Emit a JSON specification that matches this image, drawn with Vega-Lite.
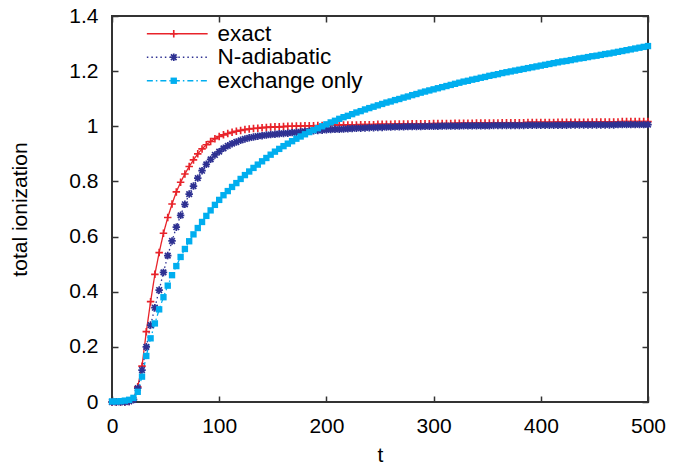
{
"$schema": "https://vega.github.io/schema/vega-lite/v6.json",
"width": 536, "height": 386,
"autosize": {"type": "none"},
"padding": {"left": 112, "top": 16, "right": 33, "bottom": 65},
"background": "white",
"config": {"view": {"stroke": "#333333", "strokeWidth": 2}, "font": "Liberation Sans"},
"data": {"values": [
{"t":0,"value":0,"series":"exact"},{"t":4,"value":0,"series":"exact"},{"t":8,"value":0,"series":"exact"},{"t":12,"value":0,"series":"exact"},{"t":16,"value":0.002,"series":"exact"},{"t":20,"value":0.01,"series":"exact"},{"t":24,"value":0.055,"series":"exact"},{"t":28,"value":0.13,"series":"exact"},{"t":32,"value":0.255,"series":"exact"},{"t":36,"value":0.364,"series":"exact"},{"t":40,"value":0.463,"series":"exact"},{"t":44,"value":0.542,"series":"exact"},{"t":48,"value":0.612,"series":"exact"},{"t":52,"value":0.669,"series":"exact"},{"t":56,"value":0.718,"series":"exact"},{"t":60,"value":0.762,"series":"exact"},{"t":64,"value":0.797,"series":"exact"},{"t":68,"value":0.827,"series":"exact"},{"t":72,"value":0.854,"series":"exact"},{"t":76,"value":0.878,"series":"exact"},{"t":80,"value":0.9,"series":"exact"},{"t":84,"value":0.918,"series":"exact"},{"t":88,"value":0.933,"series":"exact"},{"t":92,"value":0.945,"series":"exact"},{"t":96,"value":0.955,"series":"exact"},{"t":100,"value":0.963,"series":"exact"},{"t":104,"value":0.969,"series":"exact"},{"t":108,"value":0.974,"series":"exact"},{"t":112,"value":0.978,"series":"exact"},{"t":116,"value":0.982,"series":"exact"},{"t":120,"value":0.985,"series":"exact"},{"t":124,"value":0.988,"series":"exact"},{"t":128,"value":0.99,"series":"exact"},{"t":132,"value":0.992,"series":"exact"},{"t":136,"value":0.993,"series":"exact"},{"t":140,"value":0.995,"series":"exact"},{"t":144,"value":0.996,"series":"exact"},{"t":148,"value":0.997,"series":"exact"},{"t":152,"value":0.998,"series":"exact"},{"t":156,"value":0.998,"series":"exact"},{"t":160,"value":0.999,"series":"exact"},{"t":164,"value":1,"series":"exact"},{"t":168,"value":1,"series":"exact"},{"t":172,"value":1.001,"series":"exact"},{"t":176,"value":1.001,"series":"exact"},{"t":180,"value":1.002,"series":"exact"},{"t":184,"value":1.002,"series":"exact"},{"t":188,"value":1.002,"series":"exact"},{"t":192,"value":1.003,"series":"exact"},{"t":196,"value":1.003,"series":"exact"},{"t":200,"value":1.003,"series":"exact"},{"t":204,"value":1.004,"series":"exact"},{"t":208,"value":1.004,"series":"exact"},{"t":212,"value":1.004,"series":"exact"},{"t":216,"value":1.005,"series":"exact"},{"t":220,"value":1.005,"series":"exact"},{"t":224,"value":1.005,"series":"exact"},{"t":228,"value":1.005,"series":"exact"},{"t":232,"value":1.006,"series":"exact"},{"t":236,"value":1.006,"series":"exact"},{"t":240,"value":1.006,"series":"exact"},{"t":244,"value":1.006,"series":"exact"},{"t":248,"value":1.007,"series":"exact"},{"t":252,"value":1.007,"series":"exact"},{"t":256,"value":1.007,"series":"exact"},{"t":260,"value":1.007,"series":"exact"},{"t":264,"value":1.008,"series":"exact"},{"t":268,"value":1.008,"series":"exact"},{"t":272,"value":1.008,"series":"exact"},{"t":276,"value":1.008,"series":"exact"},{"t":280,"value":1.009,"series":"exact"},{"t":284,"value":1.009,"series":"exact"},{"t":288,"value":1.009,"series":"exact"},{"t":292,"value":1.009,"series":"exact"},{"t":296,"value":1.009,"series":"exact"},{"t":300,"value":1.01,"series":"exact"},{"t":304,"value":1.01,"series":"exact"},{"t":308,"value":1.01,"series":"exact"},{"t":312,"value":1.01,"series":"exact"},{"t":316,"value":1.01,"series":"exact"},{"t":320,"value":1.011,"series":"exact"},{"t":324,"value":1.011,"series":"exact"},{"t":328,"value":1.011,"series":"exact"},{"t":332,"value":1.011,"series":"exact"},{"t":336,"value":1.011,"series":"exact"},{"t":340,"value":1.012,"series":"exact"},{"t":344,"value":1.012,"series":"exact"},{"t":348,"value":1.012,"series":"exact"},{"t":352,"value":1.012,"series":"exact"},{"t":356,"value":1.012,"series":"exact"},{"t":360,"value":1.012,"series":"exact"},{"t":364,"value":1.013,"series":"exact"},{"t":368,"value":1.013,"series":"exact"},{"t":372,"value":1.013,"series":"exact"},{"t":376,"value":1.013,"series":"exact"},{"t":380,"value":1.013,"series":"exact"},{"t":384,"value":1.013,"series":"exact"},{"t":388,"value":1.014,"series":"exact"},{"t":392,"value":1.014,"series":"exact"},{"t":396,"value":1.014,"series":"exact"},{"t":400,"value":1.014,"series":"exact"},{"t":404,"value":1.014,"series":"exact"},{"t":408,"value":1.014,"series":"exact"},{"t":412,"value":1.014,"series":"exact"},{"t":416,"value":1.015,"series":"exact"},{"t":420,"value":1.015,"series":"exact"},{"t":424,"value":1.015,"series":"exact"},{"t":428,"value":1.015,"series":"exact"},{"t":432,"value":1.015,"series":"exact"},{"t":436,"value":1.015,"series":"exact"},{"t":440,"value":1.015,"series":"exact"},{"t":444,"value":1.015,"series":"exact"},{"t":448,"value":1.016,"series":"exact"},{"t":452,"value":1.016,"series":"exact"},{"t":456,"value":1.016,"series":"exact"},{"t":460,"value":1.016,"series":"exact"},{"t":464,"value":1.016,"series":"exact"},{"t":468,"value":1.016,"series":"exact"},{"t":472,"value":1.016,"series":"exact"},{"t":476,"value":1.017,"series":"exact"},{"t":480,"value":1.017,"series":"exact"},{"t":484,"value":1.017,"series":"exact"},{"t":488,"value":1.017,"series":"exact"},{"t":492,"value":1.017,"series":"exact"},{"t":496,"value":1.017,"series":"exact"},{"t":500,"value":1.017,"series":"exact"},
{"t":0,"value":0,"series":"N-adiabatic"},{"t":4,"value":0,"series":"N-adiabatic"},{"t":8,"value":0,"series":"N-adiabatic"},{"t":12,"value":0,"series":"N-adiabatic"},{"t":16,"value":0.002,"series":"N-adiabatic"},{"t":20,"value":0.008,"series":"N-adiabatic"},{"t":24,"value":0.05,"series":"N-adiabatic"},{"t":28,"value":0.116,"series":"N-adiabatic"},{"t":32,"value":0.2,"series":"N-adiabatic"},{"t":36,"value":0.279,"series":"N-adiabatic"},{"t":40,"value":0.342,"series":"N-adiabatic"},{"t":44,"value":0.406,"series":"N-adiabatic"},{"t":48,"value":0.47,"series":"N-adiabatic"},{"t":52,"value":0.531,"series":"N-adiabatic"},{"t":56,"value":0.584,"series":"N-adiabatic"},{"t":60,"value":0.634,"series":"N-adiabatic"},{"t":64,"value":0.677,"series":"N-adiabatic"},{"t":68,"value":0.717,"series":"N-adiabatic"},{"t":72,"value":0.754,"series":"N-adiabatic"},{"t":76,"value":0.783,"series":"N-adiabatic"},{"t":80,"value":0.812,"series":"N-adiabatic"},{"t":84,"value":0.839,"series":"N-adiabatic"},{"t":88,"value":0.862,"series":"N-adiabatic"},{"t":92,"value":0.88,"series":"N-adiabatic"},{"t":96,"value":0.896,"series":"N-adiabatic"},{"t":100,"value":0.908,"series":"N-adiabatic"},{"t":104,"value":0.92,"series":"N-adiabatic"},{"t":108,"value":0.929,"series":"N-adiabatic"},{"t":112,"value":0.937,"series":"N-adiabatic"},{"t":116,"value":0.943,"series":"N-adiabatic"},{"t":120,"value":0.949,"series":"N-adiabatic"},{"t":124,"value":0.954,"series":"N-adiabatic"},{"t":128,"value":0.958,"series":"N-adiabatic"},{"t":132,"value":0.961,"series":"N-adiabatic"},{"t":136,"value":0.964,"series":"N-adiabatic"},{"t":140,"value":0.966,"series":"N-adiabatic"},{"t":144,"value":0.968,"series":"N-adiabatic"},{"t":148,"value":0.97,"series":"N-adiabatic"},{"t":152,"value":0.971,"series":"N-adiabatic"},{"t":156,"value":0.973,"series":"N-adiabatic"},{"t":160,"value":0.974,"series":"N-adiabatic"},{"t":164,"value":0.975,"series":"N-adiabatic"},{"t":168,"value":0.977,"series":"N-adiabatic"},{"t":172,"value":0.978,"series":"N-adiabatic"},{"t":176,"value":0.98,"series":"N-adiabatic"},{"t":180,"value":0.981,"series":"N-adiabatic"},{"t":184,"value":0.982,"series":"N-adiabatic"},{"t":188,"value":0.984,"series":"N-adiabatic"},{"t":192,"value":0.985,"series":"N-adiabatic"},{"t":196,"value":0.986,"series":"N-adiabatic"},{"t":200,"value":0.987,"series":"N-adiabatic"},{"t":204,"value":0.988,"series":"N-adiabatic"},{"t":208,"value":0.989,"series":"N-adiabatic"},{"t":212,"value":0.989,"series":"N-adiabatic"},{"t":216,"value":0.99,"series":"N-adiabatic"},{"t":220,"value":0.991,"series":"N-adiabatic"},{"t":224,"value":0.992,"series":"N-adiabatic"},{"t":228,"value":0.993,"series":"N-adiabatic"},{"t":232,"value":0.993,"series":"N-adiabatic"},{"t":236,"value":0.994,"series":"N-adiabatic"},{"t":240,"value":0.995,"series":"N-adiabatic"},{"t":244,"value":0.995,"series":"N-adiabatic"},{"t":248,"value":0.996,"series":"N-adiabatic"},{"t":252,"value":0.996,"series":"N-adiabatic"},{"t":256,"value":0.997,"series":"N-adiabatic"},{"t":260,"value":0.997,"series":"N-adiabatic"},{"t":264,"value":0.998,"series":"N-adiabatic"},{"t":268,"value":0.998,"series":"N-adiabatic"},{"t":272,"value":0.998,"series":"N-adiabatic"},{"t":276,"value":0.999,"series":"N-adiabatic"},{"t":280,"value":0.999,"series":"N-adiabatic"},{"t":284,"value":0.999,"series":"N-adiabatic"},{"t":288,"value":0.999,"series":"N-adiabatic"},{"t":292,"value":1,"series":"N-adiabatic"},{"t":296,"value":1,"series":"N-adiabatic"},{"t":300,"value":1,"series":"N-adiabatic"},{"t":304,"value":1,"series":"N-adiabatic"},{"t":308,"value":1.001,"series":"N-adiabatic"},{"t":312,"value":1.001,"series":"N-adiabatic"},{"t":316,"value":1.001,"series":"N-adiabatic"},{"t":320,"value":1.001,"series":"N-adiabatic"},{"t":324,"value":1.001,"series":"N-adiabatic"},{"t":328,"value":1.002,"series":"N-adiabatic"},{"t":332,"value":1.002,"series":"N-adiabatic"},{"t":336,"value":1.002,"series":"N-adiabatic"},{"t":340,"value":1.002,"series":"N-adiabatic"},{"t":344,"value":1.002,"series":"N-adiabatic"},{"t":348,"value":1.002,"series":"N-adiabatic"},{"t":352,"value":1.002,"series":"N-adiabatic"},{"t":356,"value":1.003,"series":"N-adiabatic"},{"t":360,"value":1.003,"series":"N-adiabatic"},{"t":364,"value":1.003,"series":"N-adiabatic"},{"t":368,"value":1.003,"series":"N-adiabatic"},{"t":372,"value":1.003,"series":"N-adiabatic"},{"t":376,"value":1.003,"series":"N-adiabatic"},{"t":380,"value":1.003,"series":"N-adiabatic"},{"t":384,"value":1.003,"series":"N-adiabatic"},{"t":388,"value":1.004,"series":"N-adiabatic"},{"t":392,"value":1.004,"series":"N-adiabatic"},{"t":396,"value":1.004,"series":"N-adiabatic"},{"t":400,"value":1.004,"series":"N-adiabatic"},{"t":404,"value":1.004,"series":"N-adiabatic"},{"t":408,"value":1.004,"series":"N-adiabatic"},{"t":412,"value":1.004,"series":"N-adiabatic"},{"t":416,"value":1.004,"series":"N-adiabatic"},{"t":420,"value":1.004,"series":"N-adiabatic"},{"t":424,"value":1.004,"series":"N-adiabatic"},{"t":428,"value":1.005,"series":"N-adiabatic"},{"t":432,"value":1.005,"series":"N-adiabatic"},{"t":436,"value":1.005,"series":"N-adiabatic"},{"t":440,"value":1.005,"series":"N-adiabatic"},{"t":444,"value":1.005,"series":"N-adiabatic"},{"t":448,"value":1.005,"series":"N-adiabatic"},{"t":452,"value":1.005,"series":"N-adiabatic"},{"t":456,"value":1.005,"series":"N-adiabatic"},{"t":460,"value":1.005,"series":"N-adiabatic"},{"t":464,"value":1.005,"series":"N-adiabatic"},{"t":468,"value":1.005,"series":"N-adiabatic"},{"t":472,"value":1.006,"series":"N-adiabatic"},{"t":476,"value":1.006,"series":"N-adiabatic"},{"t":480,"value":1.006,"series":"N-adiabatic"},{"t":484,"value":1.006,"series":"N-adiabatic"},{"t":488,"value":1.006,"series":"N-adiabatic"},{"t":492,"value":1.006,"series":"N-adiabatic"},{"t":496,"value":1.006,"series":"N-adiabatic"},{"t":500,"value":1.006,"series":"N-adiabatic"},
{"t":0,"value":0.002,"series":"exchange only"},{"t":4,"value":0.002,"series":"exchange only"},{"t":8,"value":0.003,"series":"exchange only"},{"t":12,"value":0.005,"series":"exchange only"},{"t":16,"value":0.008,"series":"exchange only"},{"t":20,"value":0.015,"series":"exchange only"},{"t":24,"value":0.037,"series":"exchange only"},{"t":28,"value":0.092,"series":"exchange only"},{"t":32,"value":0.167,"series":"exchange only"},{"t":36,"value":0.231,"series":"exchange only"},{"t":40,"value":0.285,"series":"exchange only"},{"t":44,"value":0.336,"series":"exchange only"},{"t":48,"value":0.38,"series":"exchange only"},{"t":52,"value":0.422,"series":"exchange only"},{"t":56,"value":0.46,"series":"exchange only"},{"t":60,"value":0.493,"series":"exchange only"},{"t":64,"value":0.526,"series":"exchange only"},{"t":68,"value":0.555,"series":"exchange only"},{"t":72,"value":0.583,"series":"exchange only"},{"t":76,"value":0.608,"series":"exchange only"},{"t":80,"value":0.631,"series":"exchange only"},{"t":84,"value":0.653,"series":"exchange only"},{"t":88,"value":0.675,"series":"exchange only"},{"t":92,"value":0.695,"series":"exchange only"},{"t":96,"value":0.715,"series":"exchange only"},{"t":100,"value":0.733,"series":"exchange only"},{"t":104,"value":0.75,"series":"exchange only"},{"t":108,"value":0.765,"series":"exchange only"},{"t":112,"value":0.78,"series":"exchange only"},{"t":116,"value":0.794,"series":"exchange only"},{"t":120,"value":0.809,"series":"exchange only"},{"t":124,"value":0.823,"series":"exchange only"},{"t":128,"value":0.836,"series":"exchange only"},{"t":132,"value":0.849,"series":"exchange only"},{"t":136,"value":0.861,"series":"exchange only"},{"t":140,"value":0.873,"series":"exchange only"},{"t":144,"value":0.885,"series":"exchange only"},{"t":148,"value":0.897,"series":"exchange only"},{"t":152,"value":0.908,"series":"exchange only"},{"t":156,"value":0.918,"series":"exchange only"},{"t":160,"value":0.928,"series":"exchange only"},{"t":164,"value":0.937,"series":"exchange only"},{"t":168,"value":0.946,"series":"exchange only"},{"t":172,"value":0.955,"series":"exchange only"},{"t":176,"value":0.963,"series":"exchange only"},{"t":180,"value":0.971,"series":"exchange only"},{"t":184,"value":0.979,"series":"exchange only"},{"t":188,"value":0.986,"series":"exchange only"},{"t":192,"value":0.993,"series":"exchange only"},{"t":196,"value":1,"series":"exchange only"},{"t":200,"value":1.007,"series":"exchange only"},{"t":204,"value":1.014,"series":"exchange only"},{"t":208,"value":1.02,"series":"exchange only"},{"t":212,"value":1.027,"series":"exchange only"},{"t":216,"value":1.033,"series":"exchange only"},{"t":220,"value":1.038,"series":"exchange only"},{"t":224,"value":1.044,"series":"exchange only"},{"t":228,"value":1.05,"series":"exchange only"},{"t":232,"value":1.055,"series":"exchange only"},{"t":236,"value":1.061,"series":"exchange only"},{"t":240,"value":1.066,"series":"exchange only"},{"t":244,"value":1.071,"series":"exchange only"},{"t":248,"value":1.076,"series":"exchange only"},{"t":252,"value":1.081,"series":"exchange only"},{"t":256,"value":1.086,"series":"exchange only"},{"t":260,"value":1.09,"series":"exchange only"},{"t":264,"value":1.095,"series":"exchange only"},{"t":268,"value":1.099,"series":"exchange only"},{"t":272,"value":1.104,"series":"exchange only"},{"t":276,"value":1.108,"series":"exchange only"},{"t":280,"value":1.113,"series":"exchange only"},{"t":284,"value":1.117,"series":"exchange only"},{"t":288,"value":1.122,"series":"exchange only"},{"t":292,"value":1.126,"series":"exchange only"},{"t":296,"value":1.13,"series":"exchange only"},{"t":300,"value":1.134,"series":"exchange only"},{"t":304,"value":1.138,"series":"exchange only"},{"t":308,"value":1.142,"series":"exchange only"},{"t":312,"value":1.146,"series":"exchange only"},{"t":316,"value":1.15,"series":"exchange only"},{"t":320,"value":1.154,"series":"exchange only"},{"t":324,"value":1.158,"series":"exchange only"},{"t":328,"value":1.162,"series":"exchange only"},{"t":332,"value":1.165,"series":"exchange only"},{"t":336,"value":1.169,"series":"exchange only"},{"t":340,"value":1.172,"series":"exchange only"},{"t":344,"value":1.176,"series":"exchange only"},{"t":348,"value":1.179,"series":"exchange only"},{"t":352,"value":1.183,"series":"exchange only"},{"t":356,"value":1.186,"series":"exchange only"},{"t":360,"value":1.189,"series":"exchange only"},{"t":364,"value":1.193,"series":"exchange only"},{"t":368,"value":1.196,"series":"exchange only"},{"t":372,"value":1.199,"series":"exchange only"},{"t":376,"value":1.202,"series":"exchange only"},{"t":380,"value":1.205,"series":"exchange only"},{"t":384,"value":1.208,"series":"exchange only"},{"t":388,"value":1.211,"series":"exchange only"},{"t":392,"value":1.214,"series":"exchange only"},{"t":396,"value":1.217,"series":"exchange only"},{"t":400,"value":1.22,"series":"exchange only"},{"t":404,"value":1.223,"series":"exchange only"},{"t":408,"value":1.226,"series":"exchange only"},{"t":412,"value":1.229,"series":"exchange only"},{"t":416,"value":1.232,"series":"exchange only"},{"t":420,"value":1.235,"series":"exchange only"},{"t":424,"value":1.237,"series":"exchange only"},{"t":428,"value":1.24,"series":"exchange only"},{"t":432,"value":1.243,"series":"exchange only"},{"t":436,"value":1.246,"series":"exchange only"},{"t":440,"value":1.248,"series":"exchange only"},{"t":444,"value":1.251,"series":"exchange only"},{"t":448,"value":1.254,"series":"exchange only"},{"t":452,"value":1.256,"series":"exchange only"},{"t":456,"value":1.259,"series":"exchange only"},{"t":460,"value":1.262,"series":"exchange only"},{"t":464,"value":1.264,"series":"exchange only"},{"t":468,"value":1.267,"series":"exchange only"},{"t":472,"value":1.27,"series":"exchange only"},{"t":476,"value":1.273,"series":"exchange only"},{"t":480,"value":1.276,"series":"exchange only"},{"t":484,"value":1.279,"series":"exchange only"},{"t":488,"value":1.282,"series":"exchange only"},{"t":492,"value":1.285,"series":"exchange only"},{"t":496,"value":1.288,"series":"exchange only"},{"t":500,"value":1.291,"series":"exchange only"}
]},
"layer": [
{
"mark": {"type": "line", "strokeWidth": 1.3},
"encoding": {
"x": {"field": "t", "type": "quantitative", "scale": {"domain": [0, 500], "nice": false},
"axis": {"orient": "bottom", "values": [0,100,200,300,400,500], "tickSize": -6, "tickWidth": 1.5, "tickColor": "#333333", "domain": false, "grid": false, "labelFontSize": 21, "labelColor": "black", "labelPadding": 19, "labelFlush": false, "labelOverlap": false, "title": "t", "titleFontSize": 21, "titleFontWeight": "normal", "titleColor": "black", "titleY": 53, "titleBaseline": "middle"}},
"y": {"field": "value", "type": "quantitative", "scale": {"domain": [0, 1.4], "nice": false},
"axis": {"orient": "left", "values": [0,0.2,0.4,0.6,0.8,1,1.2,1.4], "format": "~g", "tickSize": -6, "tickWidth": 1.5, "tickColor": "#333333", "domain": false, "grid": false, "labelFontSize": 21, "labelColor": "black", "labelPadding": 20, "labelFlush": false, "labelOverlap": false, "title": "total ionization", "titleFontSize": 21, "titleFontWeight": "normal", "titleColor": "black", "titleX": -92, "titleY": 193, "titleAngle": 270, "titleBaseline": "middle"}},
"color": {"field": "series", "type": "nominal", "scale": {"domain": ["exact", "N-adiabatic", "exchange only"], "range": ["#e8232a", "#2e3192", "#00aeef"]},
"legend": {"orient": "none", "direction": "vertical", "legendX": 20, "legendY": 6.5, "title": null, "symbolType": "M-7.6,0L7.6,0", "symbolSize": 64, "symbolOffset": 34, "symbolStrokeWidth": 1.3, "labelOffset": 29, "labelFontSize": 22.5, "labelColor": "black", "labelLimit": 300, "padding": 0, "rowPadding": 0.5}},
"strokeDash": {"field": "series", "type": "nominal", "scale": {"domain": ["exact", "N-adiabatic", "exchange only"], "range": [[1, 0], [1.5, 3], [6, 3, 1.5, 3]]},
"legend": {"orient": "none", "direction": "vertical", "legendX": 20, "legendY": 6.5, "title": null, "symbolType": "M-7.6,0L7.6,0", "symbolSize": 64, "symbolOffset": 34, "symbolStrokeWidth": 1.3, "labelOffset": 29, "labelFontSize": 22.5, "labelColor": "black", "labelLimit": 300, "padding": 0, "rowPadding": 0.5}}
}
},
{
"mark": {"type": "point", "filled": true, "size": 56, "opacity": 1},
"encoding": {
"x": {"field": "t", "type": "quantitative", "scale": {"domain": [0, 500], "nice": false},
"axis": {"orient": "top", "values": [0,100,200,300,400,500], "tickSize": -6, "tickWidth": 1.5, "tickColor": "#333333", "domain": false, "grid": false, "labels": false, "title": null}},
"y": {"field": "value", "type": "quantitative", "scale": {"domain": [0, 1.4], "nice": false},
"axis": {"orient": "right", "values": [0,0.2,0.4,0.6,0.8,1,1.2,1.4], "tickSize": -6, "tickWidth": 1.5, "tickColor": "#333333", "domain": false, "grid": false, "labels": false, "title": null}},
"color": {"field": "series", "type": "nominal", "scale": {"domain": ["exact", "N-adiabatic", "exchange only"], "range": ["#e8232a", "#2e3192", "#00aeef"]},
"legend": {"orient": "none", "direction": "vertical", "legendX": 20, "legendY": 6.5, "title": null, "symbolSize": 56, "symbolOffset": 30.5, "labelOffset": 29, "labelFontSize": 22.5, "labelExpr": "' '", "labelLimit": 300, "padding": 0, "rowPadding": 0.5}},
"shape": {"field": "series", "type": "nominal", "scale": {"domain": ["exact", "N-adiabatic", "exchange only"], "range": ["M-1,0.22L1,0.22L1,-0.22L-1,-0.22ZM-0.22,-1L-0.22,1L0.22,1L0.22,-1Z", "M-1,0.23L1,0.23L1,-0.23L-1,-0.23ZM-0.23,-1L-0.23,1L0.23,1L0.23,-1ZM-0.91,-0.59L0.59,0.91L0.91,0.59L-0.59,-0.91ZM-0.59,0.91L0.91,-0.59L0.59,-0.91L-0.91,0.59Z", "M-0.85,-0.85L0.85,-0.85L0.85,0.85L-0.85,0.85Z"]},
"legend": {"orient": "none", "direction": "vertical", "legendX": 20, "legendY": 6.5, "title": null, "symbolSize": 56, "symbolOffset": 30.5, "labelOffset": 29, "labelFontSize": 22.5, "labelExpr": "' '", "labelLimit": 300, "padding": 0, "rowPadding": 0.5}}
}
}
],
"resolve": {"axis": {"x": "independent", "y": "independent"}, "legend": {"color": "independent", "strokeDash": "independent", "shape": "independent"}}
}
